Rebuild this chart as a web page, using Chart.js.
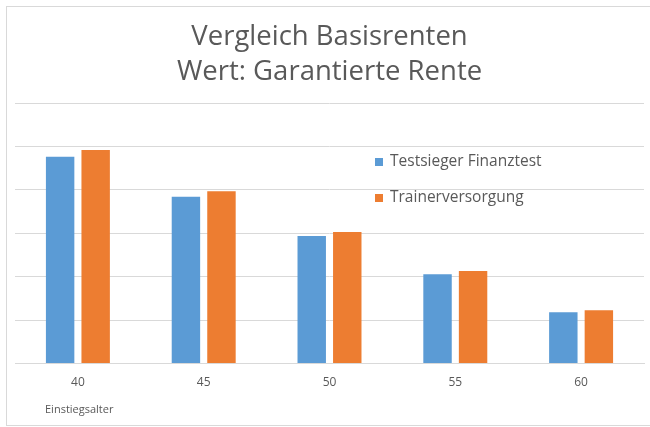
<!DOCTYPE html>
<html>
<head>
<meta charset="utf-8">
<script src="https://cdn.jsdelivr.net/npm/chart.js@4"></script>
<style>
  html, body { margin: 0; padding: 0; background: #fff; overflow: hidden; }
  #wrap { width: 650px; height: 427px; }
</style>
</head>
<body>
<div id="wrap"><canvas id="chart" width="650" height="427"></canvas></div>
<script>
/* Vergleich Basisrenten - garantierte Rente */

const ages = ['40', '45', '50', '55', '60'];
const testsieger = [476, 384, 294, 206, 118];
const trainer = [492, 397, 303, 213, 123];
const seriesNames = ['Testsieger Finanztest', 'Trainerversorgung'];
const titleLines = ['Vergleich Basisrenten', 'Wert: Garantierte Rente'];
const axisName = 'Einstiegsalter';

const FONT = "'Open Sans', 'Noto Sans', sans-serif";
const GREY = '#595959';

// frame, inner legend and axis name
const decor = {
  id: 'decor',
  beforeDraw(chart) {
    const ctx = chart.ctx;
    ctx.save();
    ctx.strokeStyle = '#d9d9d9';
    ctx.lineWidth = 1;
    ctx.strokeRect(6.5, 6.5, 700, 419);
    ctx.restore();
  },
  afterDraw(chart) {
    const ctx = chart.ctx;
    const a = chart.chartArea;
    ctx.save();
    ctx.font = '15.5px ' + FONT;
    ctx.textBaseline = 'middle';
    chart.data.datasets.forEach((ds, i) => {
      const y = a.top + 59 + i * 36;
      ctx.fillStyle = ds.backgroundColor;
      ctx.fillRect(a.left + 360, y - 4, 8, 8);
      ctx.fillStyle = GREY;
      ctx.fillText(ds.label, a.left + 375, y);
    });
    ctx.font = '11px ' + FONT;
    ctx.fillText(axisName, a.left + 30, a.bottom + 46);
    ctx.restore();
  }
};

const ctx = document.getElementById('chart').getContext('2d');
new Chart(ctx, {
  type: 'bar',
  data: {
    labels: ages,
    datasets: [
      { label: seriesNames[0], data: testsieger, backgroundColor: '#5B9BD5' },
      { label: seriesNames[1], data: trainer, backgroundColor: '#ED7D31' }
    ]
  },
  options: {
    responsive: false,
    animation: false,
    layout: { padding: { left: 15, right: 6, top: 0, bottom: 25 } },
    categoryPercentage: 0.565,
    barPercentage: 0.8,
    plugins: {
      legend: { display: false },
      tooltip: { enabled: false },
      title: {
        display: true,
        text: titleLines,
        color: GREY,
        font: { family: FONT, size: 27.5, weight: 'normal', lineHeight: '35px' },
        padding: { top: 20, bottom: 13 }
      }
    },
    scales: {
      x: {
        grid: { display: false, drawTicks: false },
        border: { display: true, color: '#d9d9d9' },
        ticks: { color: GREY, padding: 12, font: { family: FONT, size: 12 } }
      },
      y: {
        min: 0,
        max: 600,
        ticks: { display: false, stepSize: 100 },
        grid: { color: '#d9d9d9', drawTicks: false },
        border: { display: false }
      }
    }
  },
  plugins: [decor]
});
</script>
</body>
</html>
